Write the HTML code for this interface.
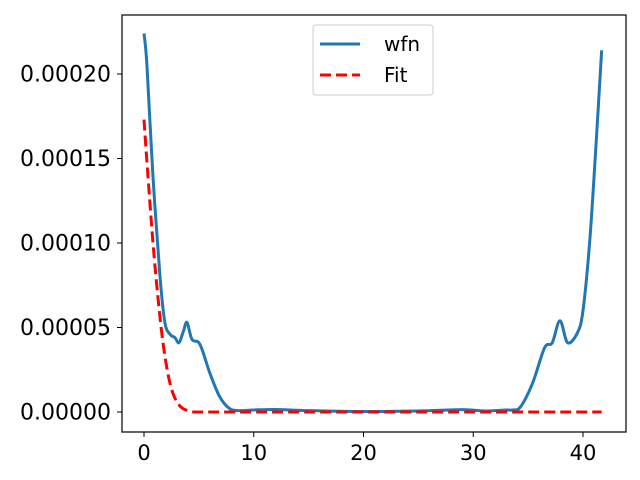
<!DOCTYPE html>
<html><head><meta charset="utf-8"><style>
body{margin:0;background:#fff}
svg{display:block;font-family:"DejaVu Sans","Liberation Sans",sans-serif}
</style></head><body>
<svg id="chart" width="640" height="480">
<rect x="0" y="0" width="640" height="480" fill="#fff"/>
<g id="plot"></g>
<rect x="122" y="15" width="504" height="417" fill="none" stroke="#000" stroke-width="1.2"/>
<g id="ticks"></g>
<g>
<rect x="313" y="25" width="120" height="70" rx="3" fill="#fff" fill-opacity="0.8" stroke="#ccc"/>
<line x1="320" y1="44" x2="360" y2="44" stroke="#1f77b4" stroke-width="3"/>
<text x="384" y="51" font-size="20">wfn</text>
<line x1="320" y1="75" x2="360" y2="75" stroke="#ff0000" stroke-width="3" stroke-dasharray="11,5"/>
<text x="384" y="82" font-size="20">Fit</text>
</g>
</svg>
<script>
const wfnX=[0,0.27,0.82,1.46,1.9,2.37,2.82,3.19,3.6,3.92,4.37,5.1,6.0,6.9,7.8,8.7,10,12,15,20,25,29,31,33,33.6,34.3,35.4,36.5,37.2,37.9,38.6,39.5,40.0,40.6,41.1,41.7];
const wfnY=[0.000224,0.000205,0.000139,0.00008,0.000053,0.000046,0.000044,0.000041,0.000048,0.000053,0.000043,0.00004,0.000023,0.000009,0.000002,0.0000008,0.0000012,0.0000015,0.0000008,0.0000003,0.0000006,0.0000014,0.0000006,0.0000012,0.0000012,0.000003,0.000017,0.000038,0.000041,0.000054,0.000041,0.000047,0.00006,0.0001,0.000149,0.000214];
const fitX=[0,0.3,0.82,1.3,1.73,2.2,2.64,3.1,3.55,4.2,5,10,20,30,41.7];
const fitY=[0.000173,0.000145,0.0001,0.000066,0.000041,0.000022,0.000011,0.000005,0.000002,0.0000005,0,0,0,0,0];
const xTicks=[0,10,20,30,40];
const yTicks=[0,0.00005,0.0001,0.00015,0.0002];
const yLabels=["0.00000","0.00005","0.00010","0.00015","0.00020"];
const sx=v=>144+v*10.975;
const sy=v=>412-v*1.69e6;
const NS="http://www.w3.org/2000/svg";
const plot=document.getElementById('plot'),ticks=document.getElementById('ticks');
function path(xs,ys){
 const p=xs.map((x,i)=>[sx(x),sy(ys[i])]);
 let d='M'+p[0][0]+','+p[0][1];
 for(let i=0;i<p.length-1;i++){const p0=p[Math.max(0,i-1)],p1=p[i],p2=p[i+1],p3=p[Math.min(p.length-1,i+2)];
  d+=` C${p1[0]+(p2[0]-p0[0])/6},${p1[1]+(p2[1]-p0[1])/6} ${p2[0]-(p3[0]-p1[0])/6},${p2[1]-(p3[1]-p1[1])/6} ${p2[0]},${p2[1]}`;}
 return d;}
let w=document.createElementNS(NS,'path');
w.setAttribute('d',path(wfnX,wfnY));w.setAttribute('fill','none');w.setAttribute('stroke','#1f77b4');w.setAttribute('stroke-width','3');


plot.appendChild(w);
let f=document.createElementNS(NS,'path');
f.setAttribute('d',path(fitX,fitY));f.setAttribute('fill','none');f.setAttribute('stroke','#ff0000');f.setAttribute('stroke-width','3');f.setAttribute('stroke-dasharray','11,5');


plot.appendChild(f);
xTicks.forEach(t=>{const l=document.createElementNS(NS,'line');l.setAttribute('x1',sx(t));l.setAttribute('x2',sx(t));l.setAttribute('y1',432);l.setAttribute('y2',437);l.setAttribute('stroke','#000');


ticks.appendChild(l);
const tx=document.createElementNS(NS,'text');tx.setAttribute('x',sx(t));tx.setAttribute('y',460);tx.setAttribute('text-anchor','middle');tx.setAttribute('font-size','21');tx.textContent=t;


ticks.appendChild(tx);});
yTicks.forEach((t,i)=>{const l=document.createElementNS(NS,'line');l.setAttribute('x1',117);l.setAttribute('x2',122);l.setAttribute('y1',sy(t));l.setAttribute('y2',sy(t));l.setAttribute('stroke','#000');


ticks.appendChild(l);
const tx=document.createElementNS(NS,'text');tx.setAttribute('x',111);tx.setAttribute('y',sy(t)+7.5);tx.setAttribute('text-anchor','end');tx.setAttribute('font-size','22');tx.textContent=yLabels[i];


ticks.appendChild(tx);});
</script>
</body></html>
